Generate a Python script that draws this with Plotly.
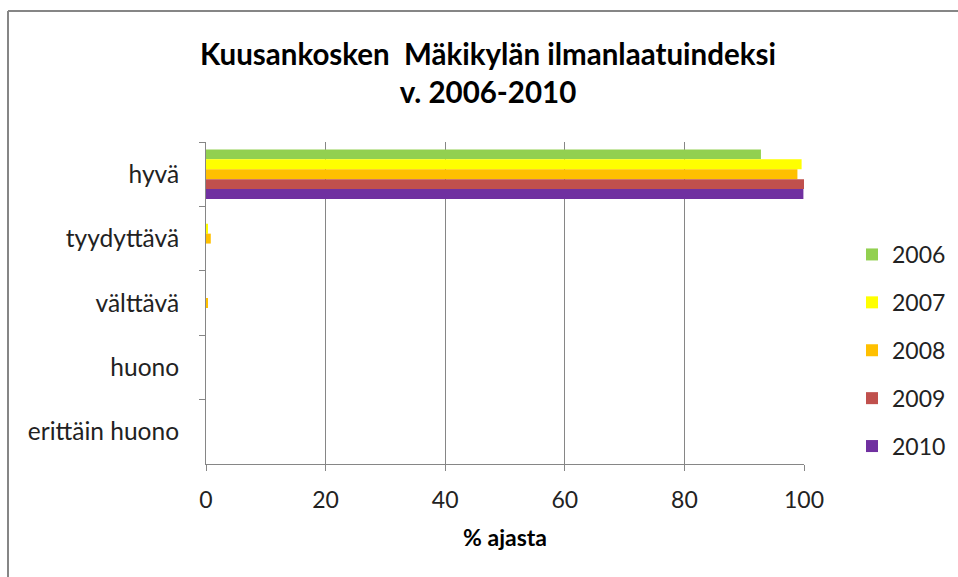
import plotly.graph_objects as go

categories = ["hyvä", "tyydyttävä", "välttävä", "huono", "erittäin huono"]
years = ["2006", "2007", "2008", "2009", "2010"]
values_2006 = [92.8, 0, 0, 0, 0]
values_2007 = [99.6, 0.3, 0, 0, 0]
values_2008 = [98.9, 0.8, 0.3, 0, 0]
values_2009 = [100.0, 0, 0, 0, 0]
values_2010 = [99.9, 0, 0, 0, 0]
series = [values_2006, values_2007, values_2008, values_2009, values_2010]
colors = ["#92D050", "#FFFF00", "#FFC000", "#C0504D", "#7030A0"]
x_ticks = [0, 20, 40, 60, 80, 100]

FONT = "Lato"
W, H = 958, 577
L, R, T, B = 206, 804, 142, 464

fig = go.Figure()
for yr, vals, col in zip(years, series, colors):
    fig.add_trace(go.Bar(
        y=categories, x=vals, name=yr, orientation="h",
        marker=dict(color=col, line=dict(width=0)),
        legendgroup=yr,
    ))

def px_x(px):
    return (px - L) / (R - L)

def px_y(py):
    return (B - py) / (B - T)

border = dict(color="#868686", width=2)

fig.update_layout(
    width=W, height=H,
    margin=dict(l=L, r=W - R, t=T, b=H - B, autoexpand=False),
    paper_bgcolor="white", plot_bgcolor="white",
    barmode="group", bargap=0.23, bargroupgap=0,
    font=dict(family=FONT, color="#000000"),
    title=dict(
        text="<b>Kuusankosken  Mäkikylän ilmanlaatuindeksi<br>v. 2006-2010</b>",
        x=488 / W, xref="container", xanchor="center",
        y=1 - 65 / H, yref="container", yanchor="middle",
        font=dict(family=FONT, size=29.5, color="#000000"),
    ),
    xaxis=dict(
        range=[0, 100], tickvals=x_ticks, ticktext=[str(v) for v in x_ticks],
        showgrid=True, gridcolor="#868686", gridwidth=1,
        showline=True, linecolor="#868686", linewidth=1,
        ticks="outside", ticklen=6, tickcolor="#868686",
        tickfont=dict(family=FONT, size=23, color="#222222"),
        ticklabelstandoff=9,
        zeroline=False,
        title=dict(text="<b>% ajasta</b>", font=dict(family=FONT, size=23, color="#000000"), standoff=18),
    ),
    yaxis=dict(
        categoryorder="array", categoryarray=categories,
        autorange="reversed",
        showline=True, linecolor="#868686", linewidth=1,
        ticks="outside", ticklen=6, tickcolor="#868686", tickson="boundaries",
        tickfont=dict(family=FONT, size=24.5, color="#222222"),
        showgrid=False, zeroline=False,
        ticklabelstandoff=21,
    ),
    legend=dict(
        x=px_x(852), y=px_y(233), xanchor="left", yanchor="top",
        font=dict(family=FONT, size=23, color="#222222"),
        traceorder="grouped", tracegroupgap=15,
        bgcolor="rgba(0,0,0,0)",
    ),
    shapes=[
        dict(type="line", xref="paper", yref="paper",
             x0=px_x(8), x1=px_x(8), y0=px_y(11), y1=px_y(600), line=border),
        dict(type="line", xref="paper", yref="paper",
             x0=px_x(8), x1=px_x(1000), y0=px_y(11), y1=px_y(11), line=border),
    ],
)

fig.write_html(
    "out.html",
    config={"displayModeBar": False},
    post_script="document.documentElement.style.overflow='hidden';"
                "document.body.style.margin='0';document.body.style.overflow='hidden';",
)
